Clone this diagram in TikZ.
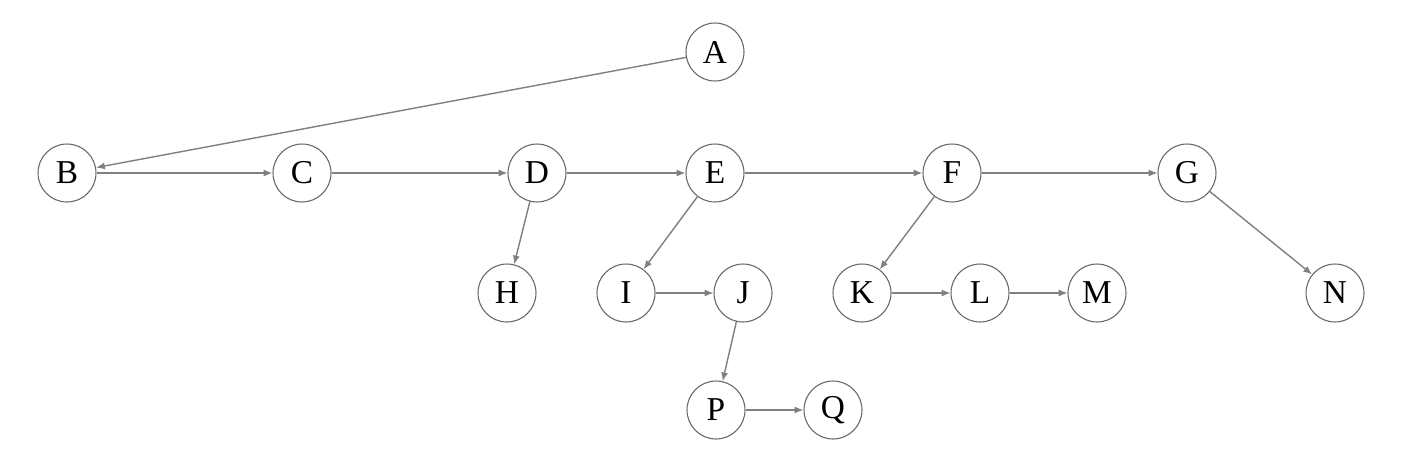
\documentclass[tikz,border=0pt]{standalone}
\usepackage{fontspec}
\setmainfont{Liberation Serif}
\usetikzlibrary{arrows.meta}
\begin{document}
\begin{tikzpicture}[x=0.02cm,y=-0.02cm,
  vtx/.style={circle,draw=black!60,line width=0.6pt,minimum size=1.16cm,inner sep=0pt,font=\fontsize{19}{19}\selectfont,fill=white},
  edge/.style={draw=black!50,line width=0.8pt,-{Latex[length=5pt,width=4pt]}}]
\fill[white] (0,0) rectangle (1411,460);
\node[vtx] (A) at (715,52) {A};
\node[vtx] (B) at (67,173) {B};
\node[vtx] (C) at (302,173) {C};
\node[vtx] (D) at (537,173) {D};
\node[vtx] (E) at (715,173) {E};
\node[vtx] (F) at (952,173) {F};
\node[vtx] (G) at (1187,173) {G};
\node[vtx] (H) at (507,293) {H};
\node[vtx] (I) at (626,293) {I};
\node[vtx] (J) at (743,293) {J};
\node[vtx] (K) at (862,293) {K};
\node[vtx] (L) at (980,293) {L};
\node[vtx] (M) at (1097,293) {M};
\node[vtx] (N) at (1335,293) {N};
\node[vtx] (P) at (716,410) {P};
\node[vtx] (Q) at (833,410) {Q};
\draw[edge] (A) -- (B);
\draw[edge] (B) -- (C);
\draw[edge] (C) -- (D);
\draw[edge] (D) -- (E);
\draw[edge] (E) -- (F);
\draw[edge] (F) -- (G);
\draw[edge] (D) -- (H);
\draw[edge] (E) -- (I);
\draw[edge] (I) -- (J);
\draw[edge] (J) -- (P);
\draw[edge] (P) -- (Q);
\draw[edge] (F) -- (K);
\draw[edge] (K) -- (L);
\draw[edge] (L) -- (M);
\draw[edge] (G) -- (N);
\end{tikzpicture}
\end{document}
